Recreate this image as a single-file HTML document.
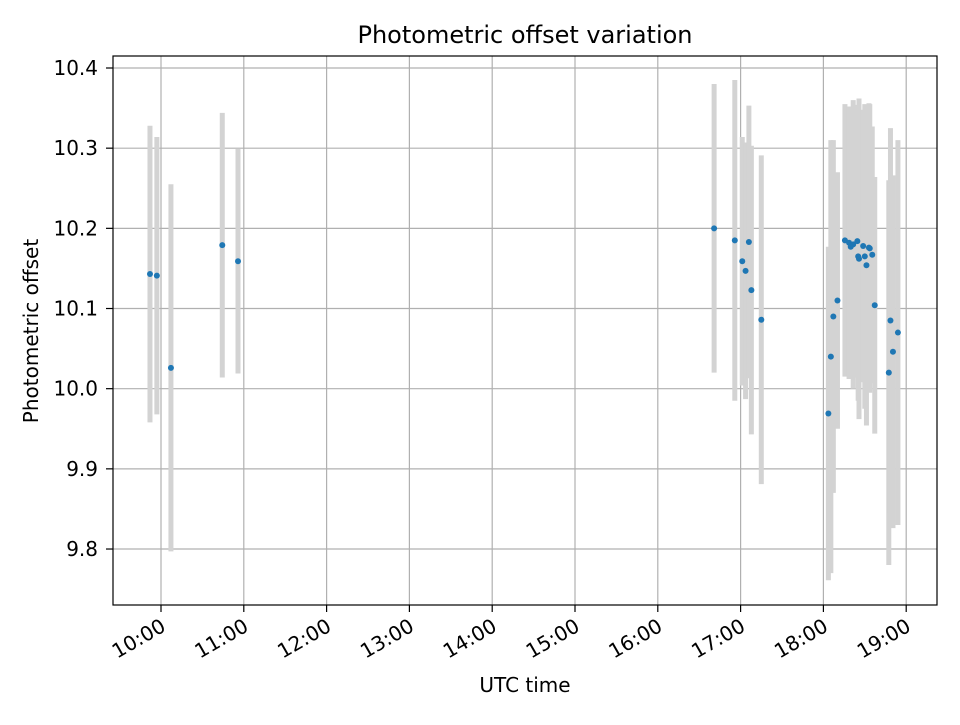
<!DOCTYPE html>
<html><head><meta charset="utf-8"><style>
body{margin:0;background:#fff;font-family:"Liberation Sans","DejaVu Sans",sans-serif}
svg text{font-family:"DejaVu Sans","Liberation Sans",sans-serif}
</style></head><body>
<svg id="chart" width="960" height="720" viewBox="0 0 960 720" xmlns="http://www.w3.org/2000/svg">
<rect width="960" height="720" fill="#fff"/>
<g id="grid"></g><g id="bars"></g><g id="pts"></g><g id="ticks"></g>
<rect x="113" y="56" width="824" height="549" fill="none" stroke="#000" stroke-width="1.2"/>
<text x="525" y="43" font-size="24" text-anchor="middle">Photometric offset variation</text>
<text x="525" y="692" font-size="20" text-anchor="middle">UTC time</text>
<text transform="translate(38,331) rotate(-90)" font-size="20" text-anchor="middle">Photometric offset</text>
</svg>
<script>
const times=[9.867,9.95,10.12,10.74,10.93,16.68,16.93,17.02,17.06,17.1,17.13,17.25,
18.06,18.09,18.12,18.17,18.26,18.31,18.36,18.33,18.41,18.43,18.42,18.48,18.52,18.55,18.56,18.59,18.5,18.62,18.79,18.81,18.84,18.9];
const values=[10.143,10.141,10.026,10.179,10.159,10.2,10.185,10.159,10.147,10.183,10.123,10.086,
9.969,10.04,10.09,10.11,10.185,10.182,10.18,10.177,10.184,10.162,10.165,10.178,10.154,10.176,10.175,10.167,10.165,10.104,10.02,10.085,10.046,10.07];
const errors=[0.185,0.173,0.229,0.165,0.14,0.18,0.2,0.155,0.16,0.17,0.18,0.205,
0.208,0.27,0.22,0.16,0.17,0.17,0.18,0.16,0.17,0.2,0.18,0.17,0.2,0.18,0.18,0.16,0.19,0.16,0.24,0.24,0.22,0.24];
const yTicks=[9.8,9.9,10.0,10.1,10.2,10.3,10.4];
const xTicks=[10,11,12,13,14,15,16,17,18,19];
const xTickLabels=["10:00","11:00","12:00","13:00","14:00","15:00","16:00","17:00","18:00","19:00"];
const NS="http://www.w3.org/2000/svg";
const X=h=>161+(h-10)*82.8;
const Y=v=>68+(10.4-v)*801.7;
function mk(tag,attrs,parent){const e=document.createElementNS(NS,tag);for(const k in attrs)e.setAttribute(k,attrs[k]);document.getElementById(parent).appendChild(e);return e;}
yTicks.forEach((t,i)=>{
 const y=Y(t);
 const g=mk('line',{x1:113,x2:937,y1:y,y2:y,stroke:'#b0b0b0','stroke-width':1.2},'grid');
 
 
 const tk=mk('line',{x1:106,x2:113,y1:y,y2:y,stroke:'#000','stroke-width':1.2},'ticks');
 
 
 const tx=mk('text',{x:98,y:y+7,'font-size':20,'text-anchor':'end'},'ticks');
 
 
 tx.textContent=t.toFixed(1);
});
xTicks.forEach((t,i)=>{
 const x=X(t);
 const g=mk('line',{x1:x,x2:x,y1:56,y2:605,stroke:'#b0b0b0','stroke-width':1.2},'grid');
 
 
 const tk=mk('line',{x1:x,x2:x,y1:605,y2:612,stroke:'#000','stroke-width':1.2},'ticks');
 
 
 const tx=mk('text',{x:0,y:0,'font-size':20,'text-anchor':'end',transform:`translate(${x+6},${630}) rotate(-30)`},'ticks');
 
 
 tx.textContent=xTickLabels[i];
});
times.forEach((t,i)=>{
 const x=X(t);
 const b=mk('line',{x1:x,x2:x,y1:Y(values[i]+errors[i]),y2:Y(values[i]-errors[i]),stroke:'#d3d3d3','stroke-width':5},'bars');
 
 
});
times.forEach((t,i)=>{
 const p=mk('circle',{cx:X(t),cy:Y(values[i]),r:3,fill:'#1f77b4'},'pts');
 
 
});
</script>
</body></html>
